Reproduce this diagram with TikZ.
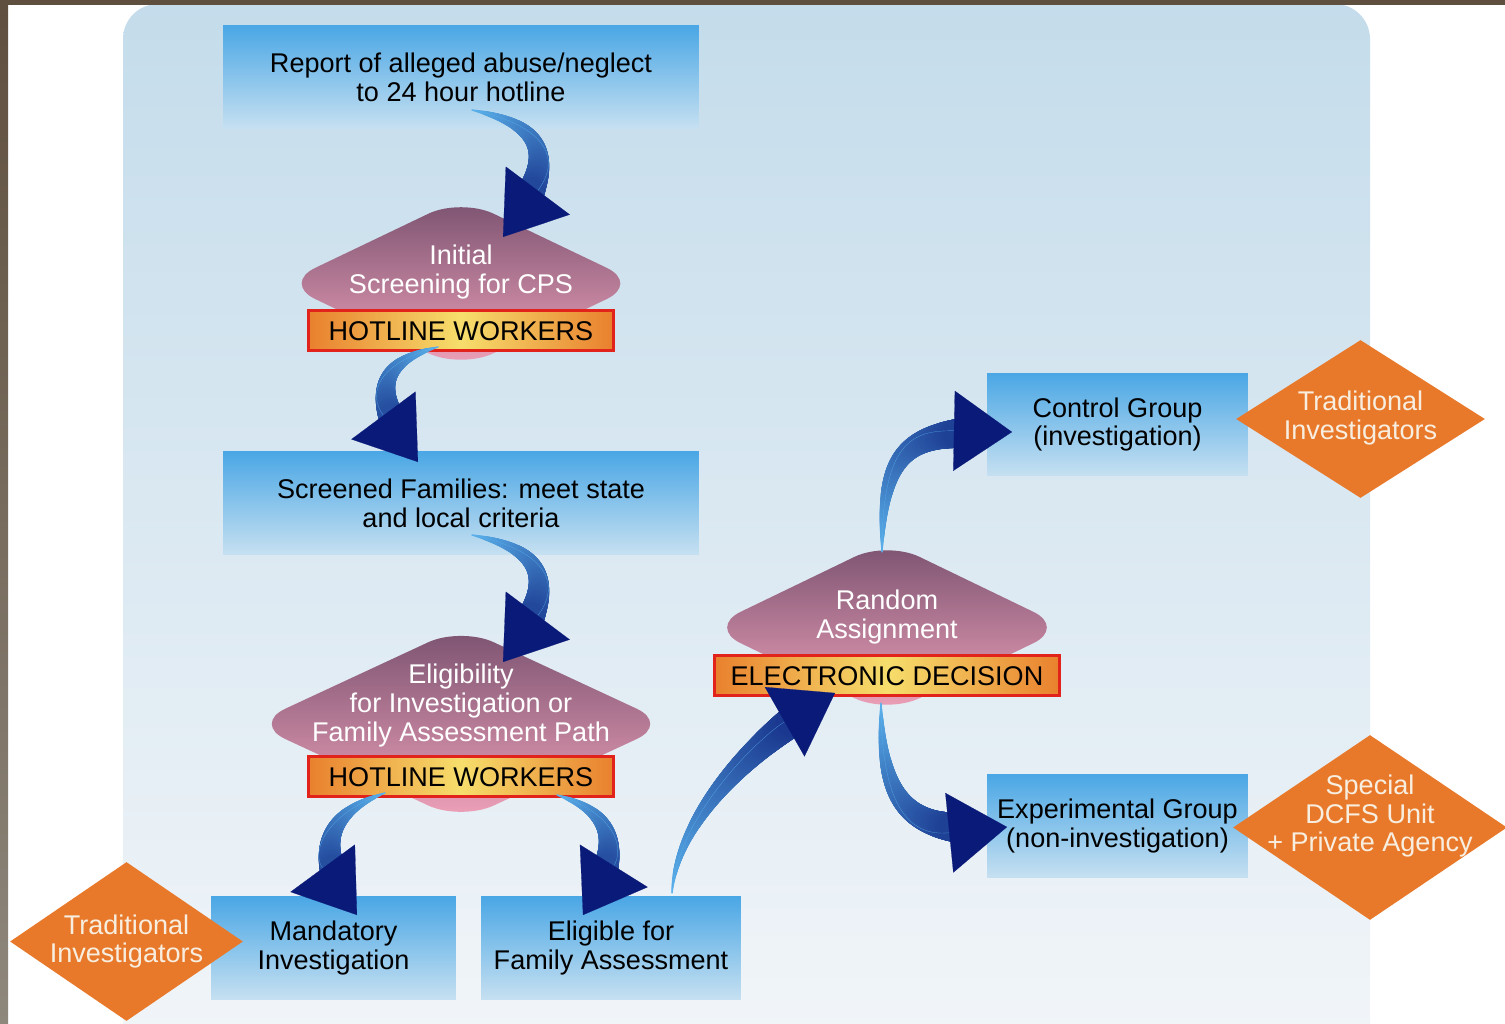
\documentclass[tikz,border=0pt]{standalone}
\usepackage{fontspec}
\setmainfont{Liberation Sans}
\usetikzlibrary{arrows.meta,positioning,shapes.geometric,decorations.markings}

\definecolor{panelTop}{HTML}{C4DCEB}
\definecolor{panelBot}{HTML}{F3F6F9}
\definecolor{boxTop}{HTML}{4AA7E5}
\definecolor{boxBot}{HTML}{C6E0F1}
\definecolor{mauveTop}{HTML}{7A5270}
\definecolor{mauveBot}{HTML}{F0A2BA}
\definecolor{barOrange}{HTML}{E9802E}
\definecolor{barYellow}{HTML}{F6DE6C}
\definecolor{barRed}{HTML}{E2231C}
\definecolor{agentOrange}{HTML}{E8792B}
\definecolor{agentText}{HTML}{F8EEDF}
\definecolor{arrowLight}{HTML}{5BB2EC}
\definecolor{arrowDark}{HTML}{0A1A78}
\definecolor{frameBrown}{HTML}{5F4F3E}
\definecolor{frameGrey}{HTML}{8E877C}

\newcommand{\flowfont}{\fontsize{15.4}{16.5}\selectfont}

\begin{document}
\begin{tikzpicture}[x=0.02cm,y=-0.02cm,
	stage box/.style={rectangle,top color=boxTop,bottom color=boxBot,
		minimum height=2.06cm,inner sep=0pt,align=center,font=\flowfont},
	screen/.style={diamond,top color=mauveTop,bottom color=mauveBot,
		rounded corners=0.72cm,inner sep=0pt},
	screen text/.style={font=\flowfont,text=white,align=center},
	banner/.style={rectangle,draw=barRed,line width=0.06cm,
		left color=barOrange,right color=barOrange,middle color=barYellow,
		minimum height=0.8cm,inner sep=0pt,font=\flowfont},
	agency/.style={diamond,fill=agentOrange,inner sep=0pt},
	agency text/.style={font=\flowfont,text=agentText,align=center},
	flow/.style={draw=arrowLight,line width=0.1pt,
		-{Triangle[length=1.16cm,width=1.6cm,color=arrowDark]},
		preaction={decorate,decoration={markings,
			mark=between positions 0 and -1.05cm step 0.3pt with {
				\pgfmathsetmacro\fr{\pgfkeysvalueof{/pgf/decoration/mark info/distance from start}/\pgfdecoratedpathlength}
				\pgfmathtruncatemacro\pc{100*\fr}
				\pgfmathsetmacro\rr{0.4+10.5*\fr}
				\fill[arrowDark!\pc!arrowLight] (0,0) circle[radius=\rr pt];}}}}]
	
	\useasboundingbox (0,0) rectangle (1505,1024);
	\clip (0,0) rectangle (1505,1024);
	
	% frame and panel
	\fill[white] (0,0) rectangle (1505,1024);
	\shade[top color=panelTop,bottom color=panelBot,rounded corners=0.7cm]
		(123,4) rectangle (1370,1080);
	\fill[frameBrown] (0,0) rectangle (1505,5);
	\shade[top color=frameBrown,bottom color=frameGrey] (0,0) rectangle (8,1024);
	
	% left column
	\node[stage box,minimum width=9.52cm] (report) at (461,77)
		{Report of alleged abuse/neglect\\to 24 hour hotline};
	\node[screen,minimum width=7.14cm,minimum height=3.42cm] (init)
		[below of=report,node distance=4.13cm] {};
	\node[screen text] (initText) [above of=init,node distance=0.22cm]
		{Initial\\Screening for CPS};
	\node[banner,minimum width=6.1cm] (hot1) [below of=init,node distance=0.95cm]
		{HOTLINE WORKERS};
	
	\node[stage box,minimum width=9.52cm] (screened) [below of=hot1,node distance=3.44cm]
		{Screened Families: meet state\\and local criteria};
	\node[screen,minimum width=8.34cm,minimum height=3.88cm] (elig)
		[below of=screened,node distance=4.42cm] {};
	\node[screen text] (eligText) [above of=elig,node distance=0.36cm]
		{Eligibility\\for Investigation or\\Family Assessment Path};
	\node[banner,minimum width=6.1cm] (hot2) [below of=elig,node distance=1.06cm]
		{HOTLINE WORKERS};
	
	\node[stage box,minimum width=4.9cm] (mand) at (333.5,948)
		{Mandatory\\Investigation};
	\node[stage box,minimum width=5.2cm] (famass) at (611,948)
		{Eligible for\\Family Assessment};
	
	% random assignment
	\node[screen,minimum width=7.16cm,minimum height=3.46cm] (rand) at (887,627.5) {};
	\node[screen text] (randText) [above of=rand,node distance=0.21cm]
		{Random\\Assignment};
	\node[banner,minimum width=6.92cm] (edec) [below of=rand,node distance=0.97cm]
		{ELECTRONIC DECISION};
	
	\node[stage box,minimum width=5.22cm] (ctrl) at (1117.5,424.5)
		{Control Group\\(investigation)};
	\node[stage box,minimum width=5.22cm] (expt) [below of=ctrl,node distance=8.03cm]
		{Experimental Group\\(non-investigation)};
	
	% who handles the cases
	\node[agency,minimum width=4.98cm,minimum height=3.16cm] (trad1) at (1360.5,419) {};
	\node[agency text] (trad1Text) [above of=trad1,node distance=0.02cm]
		{Traditional\\Investigators};
	\node[agency,minimum width=5.48cm,minimum height=3.7cm] (special) at (1370,827.5) {};
	\node[agency text] (specialText) [above of=special,node distance=0.23cm]
		{Special\\DCFS Unit\\+ Private Agency};
	\node[agency,minimum width=4.66cm,minimum height=3.18cm] (trad2) at (126.5,941.5) {};
	\node[agency text] (trad2Text) [above of=trad2,node distance=0.0cm]
		{Traditional\\Investigators};
	
	% arrows
	\coordinate (a1t) at (472,110);  \coordinate (a1h) at (503,237);
	\coordinate (a2t) at (438,347);  \coordinate (a2h) at (418,462);
	\coordinate (a3t) at (472,535);  \coordinate (a3h) at (503,662);
	\coordinate (a4t) at (385,793);  \coordinate (a4h) at (357,915);
	\coordinate (a5t) at (557,795);  \coordinate (a5h) at (583,915);
	\coordinate (a6t) at (672,893);  \coordinate (a6h) at (835,693);
	\coordinate (a7t) at (882,552);  \coordinate (a7h) at (1012,432);
	\coordinate (a8t) at (881,703);  \coordinate (a8h) at (1007,827);
	
	\draw[flow] (a1t) .. controls +(72,15) and +(60,-80) .. (a1h);
	\draw[flow] (a2t) .. controls +(-58,15) and +(-52,-70) .. (a2h);
	\draw[flow] (a3t) .. controls +(72,15) and +(60,-80) .. (a3h);
	\draw[flow] (a4t) .. controls +(-58,20) and +(-47,-64) .. (a4h);
	\draw[flow] (a5t) .. controls +(58,18) and +(42,-67) .. (a5h);
	\draw[flow] (a6t) .. controls +(5,-80) and +(-70,40) .. (a6h);
	\draw[flow] (a7t) .. controls +(0,-110) and +(-100,-2) .. (a7h);
	\draw[flow] (a8t) .. controls +(0,100) and +(-100,10) .. (a8h);
\end{tikzpicture}
\end{document}
